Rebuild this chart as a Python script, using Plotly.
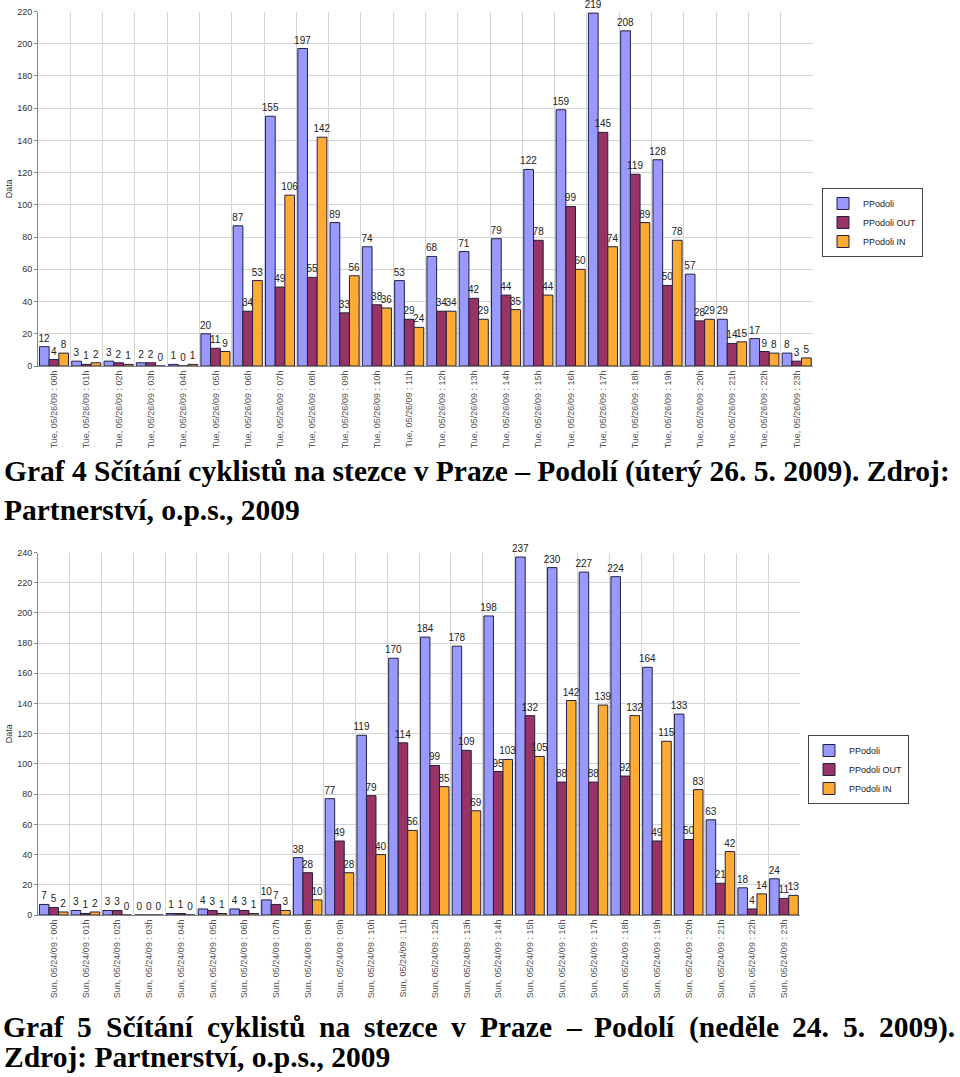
import plotly.graph_objects as go

hours = [f"{h:02d}h" for h in range(24)]
labels_tue = [f"Tue, 05/26/09 : {h}" for h in hours]
labels_sun = [f"Sun, 05/24/09 : {h}" for h in hours]

tue_total = [12, 3, 3, 2, 1, 20, 87, 155, 197, 89, 74, 53, 68, 71, 79, 122, 159, 219, 208, 128, 57, 29, 17, 8]
tue_out = [4, 1, 2, 2, 0, 11, 34, 49, 55, 33, 38, 29, 34, 42, 44, 78, 99, 145, 119, 50, 28, 14, 9, 3]
tue_in = [8, 2, 1, 0, 1, 9, 53, 106, 142, 56, 36, 24, 34, 29, 35, 44, 60, 74, 89, 78, 29, 15, 8, 5]

sun_total = [7, 3, 3, 0, 1, 4, 4, 10, 38, 77, 119, 170, 184, 178, 198, 237, 230, 227, 224, 164, 133, 63, 18, 24]
sun_out = [5, 1, 3, 0, 1, 3, 3, 7, 28, 49, 79, 114, 99, 109, 95, 132, 88, 88, 92, 49, 50, 21, 4, 11]
sun_in = [2, 2, 0, 0, 0, 1, 1, 3, 10, 28, 40, 56, 85, 69, 103, 105, 142, 139, 132, 115, 83, 42, 14, 13]

series_names = ["PPodoli", "PPodoli OUT", "PPodoli IN"]
colors = ["#9999FF", "#993366", "#FFAA33"]
offsets = [-0.455, -0.155, 0.145]

W, H = 960, 1077

fig = go.Figure()

def add_chart(xlabels, series, xa, ya, legend):
    for name, vals, col, off in zip(series_names, series, colors, offsets):
        fig.add_trace(go.Bar(
            x=xlabels, y=vals, name=name,
            marker=dict(color=col, line=dict(color="#202040", width=1)),
            width=0.3, offset=off,
            text=[str(v) for v in vals], textposition="outside",
            textfont=dict(family="Liberation Sans, Arial", size=10, color="#222"),
            cliponaxis=False,
            xaxis=xa, yaxis=ya, legend=legend,
        ))

add_chart(labels_tue, [tue_total, tue_out, tue_in], "x", "y", "legend")
add_chart(labels_sun, [sun_total, sun_out, sun_in], "x2", "y2", "legend2")

xcommon = dict(type="category", tickson="boundaries", showgrid=True, gridcolor="#d4d4d4",
               tickangle=-90, tickfont=dict(family="Liberation Sans, Arial", size=9, color="#555"),
               showline=True, linecolor="#888", ticks="", fixedrange=True, automargin=False)
ycommon = dict(showgrid=True, gridcolor="#d4d4d4", showline=True, linecolor="#888",
               ticks="outside", ticklen=3, tickcolor="#888", automargin=False,
               ticklabeloverflow="allow",
               tickfont=dict(family="Liberation Sans, Arial", size=9, color="#333"),
               title=dict(text="Data", font=dict(family="Liberation Sans, Arial", size=9, color="#333"), standoff=3),
               zeroline=False)

def px_x(px):
    return px / W

def px_y(py):
    return 1 - py / H

legend_common = dict(xanchor="left", yanchor="top", bordercolor="#444", borderwidth=1, bgcolor="white",
                     font=dict(family="Liberation Sans, Arial", size=9, color="#222"),
                     itemwidth=30, tracegroupgap=4)

fig.update_layout(
    width=W, height=H,
    margin=dict(l=0, r=0, t=0, b=0, autoexpand=False),
    paper_bgcolor="white", plot_bgcolor="white",
    barmode="overlay",
    showlegend=True,
    uniformtext=dict(minsize=10, mode="show"),
    xaxis=dict(**xcommon, domain=[px_x(38), px_x(813)], anchor="y", range=[-0.5, 23.5]),
    yaxis=dict(**ycommon, domain=[px_y(366), px_y(11.5)], anchor="x", range=[0, 220], dtick=20),
    xaxis2=dict(**xcommon, domain=[px_x(38), px_x(800)], anchor="y2", range=[-0.5, 23.5]),
    yaxis2=dict(**ycommon, domain=[px_y(915), px_y(552.5)], anchor="x2", range=[0, 240], dtick=20),
    legend=dict(**legend_common, x=px_x(822), y=px_y(188)),
    legend2=dict(**legend_common, x=px_x(808), y=px_y(735)),
)

cap_font = dict(family="Liberation Serif, Times New Roman", size=29.5, color="black")
captions = [
    ("<b>Graf 4 Sčítání cyklistů na stezce v Praze – Podolí (úterý 26. 5. 2009). Zdroj:</b>", 2, 471),
    ("<b>Partnerství, o.p.s., 2009</b>", 2, 510),
    ("<b>Zdroj: Partnerství, o.p.s., 2009</b>", 2, 1057),
]
for txt, x, y in captions:
    fig.add_annotation(text=txt, xref="paper", yref="paper", x=px_x(x), y=px_y(y),
                       xanchor="left", yanchor="middle", showarrow=False, font=cap_font)

# justified first line of the second caption: one annotation per word
cap2_words = ["Graf", "5", "Sčítání", "cyklistů", "na", "stezce", "v", "Praze", "–",
              "Podolí", "(neděle", "24.", "5.", "2009)."]
cap2_x = [3, 77, 106, 207, 319, 364, 451, 480, 566, 594, 689, 792, 843, 879]
for w, x in zip(cap2_words, cap2_x):
    fig.add_annotation(text=f"<b>{w}</b>", xref="paper", yref="paper", x=px_x(x - 2), y=px_y(1027),
                       xanchor="left", yanchor="middle", showarrow=False, font=cap_font)

fig.write_html("out.html", config={"displayModeBar": False},
               post_script="document.body.style.margin='0';")
